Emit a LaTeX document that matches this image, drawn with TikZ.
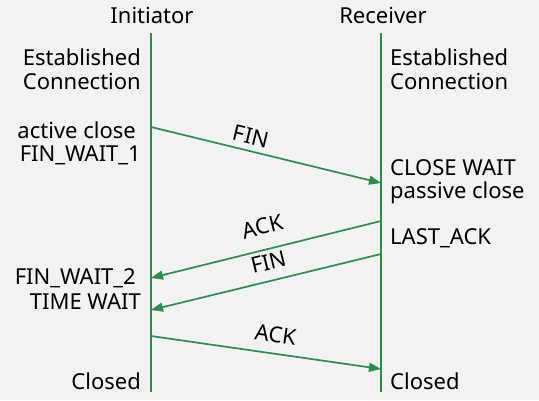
\documentclass[tikz,border=0pt]{standalone}
\usepackage{fontspec}
\setmainfont{Noto Sans}
\usetikzlibrary{arrows.meta}
\definecolor{lgreen}{RGB}{46,139,80}
\definecolor{bgc}{RGB}{242,242,242}
\begin{document}
\begin{tikzpicture}[x=1pt,y=-1pt,
  lbl/.style={font=\fontsize{22}{26}\selectfont, inner sep=0pt, text=black},
  life/.style={draw=lgreen, line width=1.7pt},
  msg/.style={draw=lgreen, line width=1.7pt, -{Triangle[length=12pt,width=9pt]}},
  mlbl/.style={font=\fontsize{22}{26}\selectfont, sloped, above=6pt, inner sep=0pt, midway}]
\fill[bgc] (0,0) rectangle (539,400);
\useasboundingbox (0,0) rectangle (539,400);
% headers
\node[lbl] (ini) at (152,15) {Initiator};
\node[lbl] (rec) at (383,15) {Receiver};
% lifelines
\coordinate (lt) at (151,33);
\coordinate (lb) at (151,392);
\coordinate (rt) at (381,33);
\coordinate (rb) at (381,392);
\draw[life] (lt) -- (lb);
\draw[life] (rt) -- (rb);
% left states
\node[lbl, anchor=east] (l1) at (141,57) {Established};
\node[lbl, anchor=east] (l2) at (141,81) {Connection};
\node[lbl, anchor=east] (l3) at (136,130) {active close};
\node[lbl, anchor=east] (l4) at (141,155) {FIN\_WAIT\_1};
\node[lbl, anchor=east] (l5) at (136,278) {FIN\_WAIT\_2};
\node[lbl, anchor=east] (l6) at (141,302) {TIME WAIT};
\node[lbl, anchor=east] (l7) at (141,381) {Closed};
% right states
\node[lbl, anchor=west] (r1) at (390,57) {Established};
\node[lbl, anchor=west] (r2) at (390,81) {Connection};
\node[lbl, anchor=west] (r3) at (390,168) {CLOSE WAIT};
\node[lbl, anchor=west] (r4) at (390,193) {passive close};
\node[lbl, anchor=west] (r5) at (390,238) {LAST\_ACK};
\node[lbl, anchor=west] (r6) at (390,381) {Closed};
% message endpoints
\coordinate (a1) at (151,127);
\coordinate (b1) at (381,183);
\coordinate (a2) at (381,221);
\coordinate (b2) at (151,278);
\coordinate (a3) at (381,254);
\coordinate (b3) at (151,310);
\coordinate (a4) at (151,336);
\coordinate (b4) at (381,369);
\draw[msg] (a1) -- node[mlbl, pos=0.42] (m1) {FIN} (b1);
\draw[msg] (a2) -- node[mlbl, pos=0.49, above=8pt] (m2) {ACK} (b2);
\draw[msg] (a3) -- node[mlbl, pos=0.47, above=4pt] (m3) {FIN} (b3);
\draw[msg] (a4) -- node[mlbl, pos=0.53, above=4pt] (m4) {ACK} (b4);
\end{tikzpicture}
\end{document}
